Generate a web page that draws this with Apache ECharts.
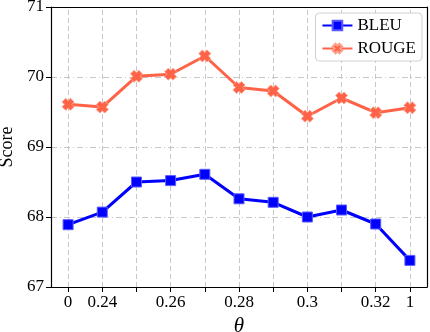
<!DOCTYPE html>
<html><head><meta charset="utf-8">
<script src="https://cdn.jsdelivr.net/npm/echarts@6/dist/echarts.min.js"></script>
<style>html,body{margin:0;padding:0;background:#fff}#c{width:430px;height:332px}</style>
</head><body><div id="c"></div>
<script>
const categories = ['0','0.24','0.25','0.26','0.27','0.28','0.29','0.3','0.31','0.32','1'];
const tickLabels = ['0','0.24','','0.26','','0.28','','0.3','','0.32','1'];
const bleu = [67.89, 68.07, 68.50, 68.52, 68.61, 68.26, 68.21, 68.00, 68.10, 67.90, 67.38];
const rouge = [69.61, 69.57, 70.01, 70.04, 70.30, 69.85, 69.80, 69.44, 69.70, 69.49, 69.56];
const yTicks = [67, 68, 69, 70, 71];

const FONT = 'Liberation Serif';
const xPath = 'path://M0.3,0 L0.5,0.2 L0.7,0 L1,0.3 L0.8,0.5 L1,0.7 L0.7,1 L0.5,0.8 L0.3,1 L0,0.7 L0.2,0.5 L0,0.3 Z';

const chart = echarts.init(document.getElementById('c'));
chart.setOption({
  animation: false,
  textStyle: {fontFamily: FONT},
  grid: {left: 51, top: 7, right: 3, bottom: 45, outerBoundsMode: 'none', containLabel: false},
  legend: {
    orient: 'vertical', right: 8, top: 13,
    backgroundColor: '#fff', borderColor: '#d0d0d0', borderWidth: 1, borderRadius: 4,
    padding: [4, 6, 4, 6], itemGap: 6, itemWidth: 30, itemHeight: 12,
    textStyle: {fontFamily: FONT, fontSize: 17, color: '#000'},
    data: ['BLEU', 'ROUGE']
  },
  xAxis: [{
    type: 'category', data: categories, boundaryGap: true,
    name: 'θ', nameLocation: 'middle', nameGap: 17,
    nameTextStyle: {fontFamily: FONT, fontSize: 21, fontStyle: 'italic', color: '#000'},
    axisLine: {lineStyle: {color: '#000', width: 1.2}},
    axisTick: {show: true, alignWithLabel: true, interval: 0, length: 5, lineStyle: {color: '#000'}},
    axisLabel: {interval: 0, margin: 7, fontFamily: FONT, fontSize: 17, color: '#000',
      formatter: (v, i) => tickLabels[i]},
    splitLine: {show: false}
  }, {
    type: 'category', data: categories, position: 'top', z: 10,
    axisLine: {show: true, onZero: false, lineStyle: {color: '#000', width: 1.2}},
    axisTick: {show: false}, axisLabel: {show: false}, splitLine: {show: false}
  }],
  yAxis: [{
    type: 'value', min: yTicks[0], max: yTicks[yTicks.length - 1], interval: 1,
    name: 'Score', nameLocation: 'middle', nameGap: 34,
    nameTextStyle: {fontFamily: FONT, fontSize: 18, color: '#000'},
    axisLine: {show: true, lineStyle: {color: '#000', width: 1.2}},
    axisTick: {show: true, length: 5, lineStyle: {color: '#000'}},
    axisLabel: {margin: 7, fontFamily: FONT, fontSize: 17, color: '#000'},
    splitLine: {show: true, lineStyle: {color: '#c8c8c8', type: [6, 3, 1, 3], width: 1}}
  }, {
    type: 'value', min: yTicks[0], max: yTicks[yTicks.length - 1], interval: 1, position: 'right', z: 10,
    axisLine: {show: true, onZero: false, lineStyle: {color: '#000', width: 1.2}},
    axisTick: {show: false}, axisLabel: {show: false}, splitLine: {show: false}
  }],
  series: [
    {
      name: 'BLEU', type: 'line', data: bleu,
      symbol: 'rect', symbolSize: 10, z: 3,
      lineStyle: {color: '#0000ff', width: 3},
      itemStyle: {color: '#0000ff', borderColor: '#5a5aff', borderWidth: 1},
      emphasis: {disabled: true},
      markLine: {
        silent: true, symbol: 'none', z: 1, animation: false,
        label: {show: false},
        lineStyle: {color: '#c8c8c8', type: [5, 3], width: 1},
        emphasis: {disabled: true},
        data: categories.map(c => ({xAxis: c}))
      }
    },
    {
      name: 'ROUGE', type: 'line', data: rouge,
      symbol: xPath, symbolSize: 12, z: 3,
      lineStyle: {color: '#ff6347', width: 3},
      itemStyle: {color: '#ff6347', borderColor: '#ffa08c', borderWidth: 1},
      emphasis: {disabled: true}
    }
  ]
});
</script></body></html>
